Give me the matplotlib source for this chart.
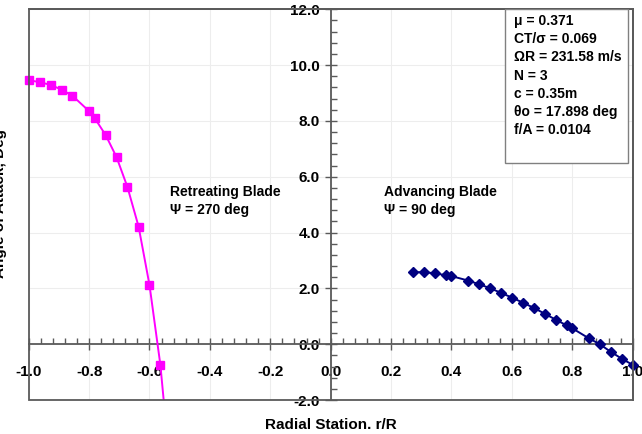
#!/usr/bin/env python3
import matplotlib
matplotlib.use("Agg")
import matplotlib.pyplot as plt
from matplotlib.ticker import MultipleLocator, FormatStrFormatter
from matplotlib.patches import Rectangle
import numpy as np

plt.rcParams['font.family'] = ['Liberation Sans', 'DejaVu Sans']
plt.rcParams['font.weight'] = 'bold'

# Retreating blade (psi = 270 deg)
r_retreat = [-1.0, -0.964, -0.927, -0.891, -0.855, -0.8, -0.782, -0.745,
             -0.709, -0.673, -0.636, -0.600, -0.564, -0.527]
aoa_retreat = [9.46, 9.39, 9.29, 9.12, 8.90, 8.35, 8.11, 7.49,
               6.70, 5.63, 4.21, 2.12, -0.74, -5.0]

# Advancing blade (psi = 90 deg)
r_advance = [0.273, 0.309, 0.345, 0.382, 0.4, 0.455, 0.491, 0.527, 0.564,
             0.600, 0.636, 0.673, 0.709, 0.745, 0.782, 0.8, 0.855, 0.891,
             0.927, 0.964, 1.0]
aoa_advance = [2.58, 2.58, 2.54, 2.47, 2.44, 2.28, 2.15, 2.01, 1.84,
               1.67, 1.49, 1.30, 1.09, 0.88, 0.67, 0.57, 0.21, 0.0,
               -0.27, -0.52, -0.74]

info_lines = ["\u03bc = 0.371", "CT/\u03c3 = 0.069", "\u03a9R = 231.58 m/s",
              "N = 3", "c = 0.35m", "\u03b8o = 17.898 deg", "f/A = 0.0104"]

fig = plt.figure(figsize=(6.42, 4.34), dpi=100)
ax = fig.add_axes([0.0447, 0.0783, 0.9408, 0.9003])

magenta = '#FF00FF'
navy = '#000080'
spine_gray = '#5A5A5A'

ax.set_xlim(-1.0, 1.0)
ax.set_ylim(-2.0, 12.0)

# grid
ax.grid(True, which='major', color='#EDEDED', linewidth=0.8, zorder=0)
ax.set_axisbelow(True)

# curves (line clipped, markers not clipped at the frame)
ax.plot(r_retreat, aoa_retreat, color=magenta, linewidth=1.4, zorder=3)
rr = np.array(r_retreat)
ar = np.array(aoa_retreat)
keep = ar >= -2.0
ax.plot(rr[keep], ar[keep], linestyle='none', marker='s', markersize=6,
        color=magenta, clip_on=False, zorder=4)

ax.plot(r_advance, aoa_advance, color=navy, linewidth=1.4, marker='D',
        markersize=5.5, clip_on=False, zorder=4)

# axes through zero
for s in ['left', 'bottom']:
    ax.spines[s].set_position('zero')
    ax.spines[s].set_color(spine_gray)
    ax.spines[s].set_linewidth(1.3)
for s in ['top', 'right']:
    ax.spines[s].set_color(spine_gray)
    ax.spines[s].set_linewidth(1.3)
frame = Rectangle((0, 0), 1, 1, transform=ax.transAxes, fill=False,
                  edgecolor=spine_gray, linewidth=1.3, clip_on=False, zorder=5)
ax.add_patch(frame)

ax.xaxis.set_major_locator(MultipleLocator(0.2))
ax.xaxis.set_minor_locator(MultipleLocator(0.04))
ax.yaxis.set_major_locator(MultipleLocator(2.0))
ax.yaxis.set_minor_locator(MultipleLocator(0.4))
ax.xaxis.set_major_formatter(FormatStrFormatter('%.1f'))
ax.yaxis.set_major_formatter(FormatStrFormatter('%.1f'))

ax.tick_params(axis='both', which='major', direction='inout', length=8,
               width=1.0, color=spine_gray, labelsize=11)
ax.tick_params(axis='both', which='minor', direction='in', length=4,
               width=1.0, color=spine_gray)
ax.tick_params(axis='x', which='major', pad=11)
ax.tick_params(axis='y', which='major', pad=4)

fig.canvas.draw()
for lab in ax.get_xticklabels() + ax.get_yticklabels():
    lab.set_fontweight('bold')

# annotations
ax.text(-0.532, 5.13, "Retreating Blade\n\u03a8 = 270 deg", fontsize=10,
        fontweight='bold', va='center', ha='left', linespacing=1.3, zorder=6)
ax.text(0.176, 5.13, "Advancing Blade\n\u03a8 = 90 deg", fontsize=10,
        fontweight='bold', va='center', ha='left', linespacing=1.3, zorder=6)

# parameter box
box = Rectangle((0.789, 0.607), 0.203, 0.393, transform=ax.transAxes,
                facecolor='white', edgecolor='#808080', linewidth=1.0,
                zorder=6)
ax.add_patch(box)
ax.text(0.803, 0.988, "\n".join(info_lines), transform=ax.transAxes,
        fontsize=10, fontweight='bold', va='top', ha='left',
        linespacing=1.38, zorder=7)

# axis labels
fig.text(0.5156, 0.02, "Radial Station. r/R", fontsize=11, fontweight='bold',
         ha='center', va='center')
fig.text(0.0, 0.53, "Angle of Attack, Deg", fontsize=11, fontweight='bold',
         ha='center', va='center', rotation=90)

fig.savefig("out.png", dpi=100)
